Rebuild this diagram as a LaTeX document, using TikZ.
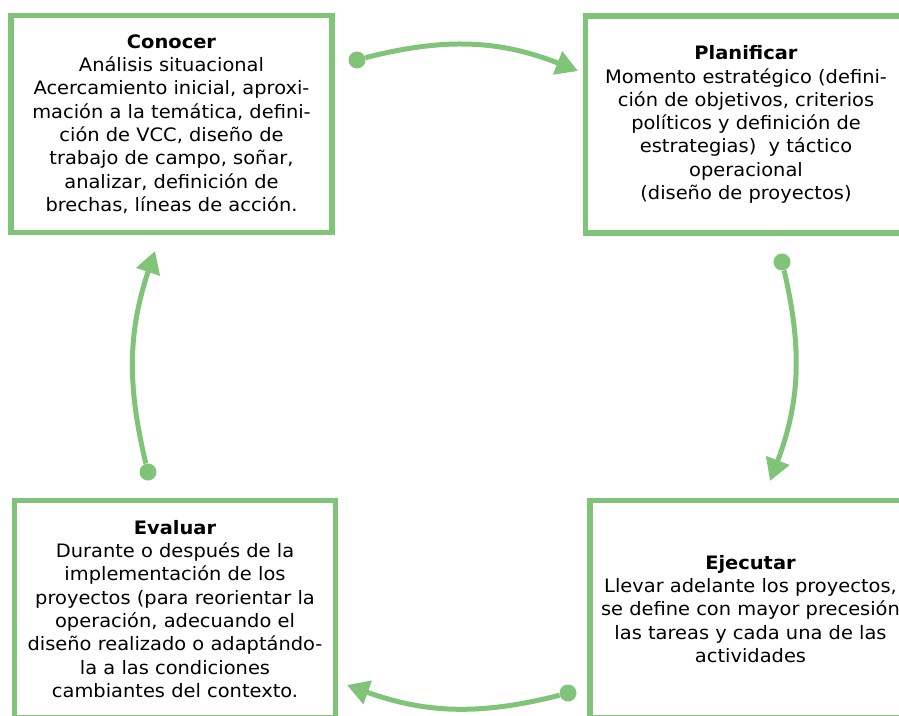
\documentclass[tikz,border=0pt]{standalone}
\usepackage{fontspec}
\setmainfont{DejaVu Sans}[FakeStretch=1.05]
\usetikzlibrary{arrows.meta}
\definecolor{verde}{RGB}{128,196,122}

\begin{document}
\begin{tikzpicture}[x=1pt,y=-1pt]
    \useasboundingbox (0,0) rectangle (899,715);
    \clip (0,0) rectangle (899,715);
    \tikzstyle{stage} = [draw = verde, line width = 5.5pt, minimum width = 321pt, minimum height = 217pt, inner sep = 0pt, align = center, font = \fontsize{18.5}{23.3}\selectfont];
    \tikzstyle{dot} = [circle, fill = verde, minimum size = 17pt, inner sep = 0pt];
    \tikzstyle{flow} = [verde, line width = 5pt, -{Triangle[length=22pt,width=24pt]}];
    \node[stage] (s0) at (171.5,124) {\textbf{Conocer}\\Análisis situacional\\Acercamiento inicial, aproxi-\\mación a la temática, defini-\\ción de VCC, diseño de\\trabajo de campo, soñar,\\analizar, definición de\\brechas, líneas de acción.};
    \node[stage] (s1) at (746,124.5) {\textbf{Planificar}\\Momento estratégico (defini-\\ción de objetivos, criterios\\políticos y definición de\\estrategias)\ \ y táctico\\operacional\\(diseño de proyectos)};
    \node[stage] (s2) at (750.5,609) {\textbf{Ejecutar}\\Llevar adelante los proyectos,\\se define con mayor precesión\\las tareas y cada una de las\\actividades};
    \node[stage] (s3) at (175,609) {\textbf{Evaluar}\\Durante o después de la\\implementación de los\\proyectos (para reorientar la\\operación, adecuando el\\diseño realizado o adaptándo-\\la a las condiciones\\cambiantes del contexto.};
    \node[dot] (p0) at (357,60) {};
    \node[dot] (p1) at (782,262) {};
    \node[dot] (p2) at (568,693) {};
    \node[dot] (p3) at (148,472) {};
    \coordinate (q0) at (578,71);
    \coordinate (q1) at (770,481);
    \coordinate (q2) at (347,685);
    \coordinate (q3) at (155,251);
    \draw[flow] (p0) to[bend left=18] (q0);
    \draw[flow] (p1) to[bend left=17] (q1);
    \draw[flow] (p2) to[bend left=17] (q2);
    \draw[flow] (p3) to[bend left=16] (q3);
\end{tikzpicture}
\end{document}
